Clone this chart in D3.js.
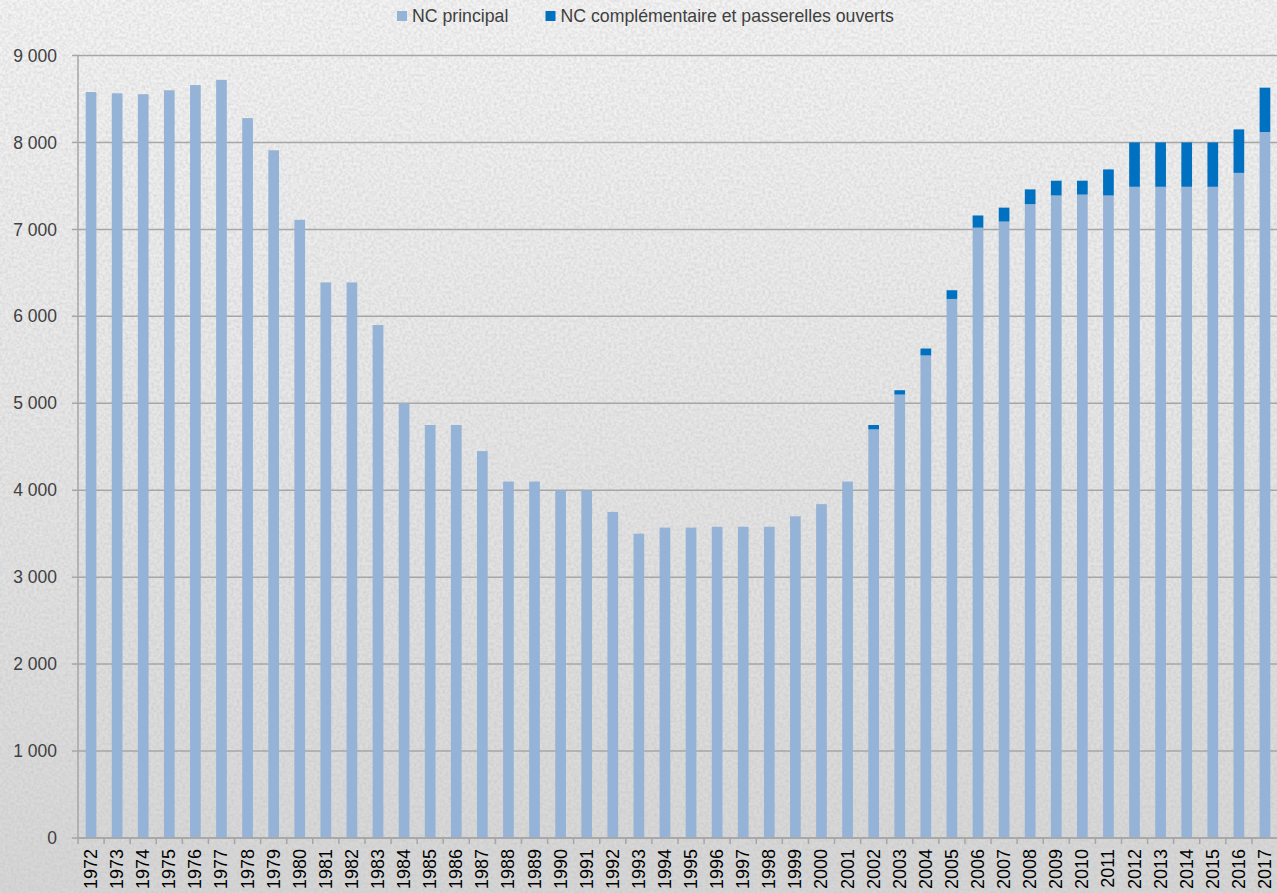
<!DOCTYPE html>
<html>
<head>
<meta charset="utf-8">
<script src="https://d3js.org/d3.v7.min.js"></script>
<style>
  body { margin: 0; }
  svg { display: block; font-family: "Liberation Sans", Arial, sans-serif; }
</style>
</head>
<body>
<div id="chart"></div>
<script>
// Data
const years = [1972, 1973, 1974, 1975, 1976, 1977, 1978, 1979, 1980, 1981,
               1982, 1983, 1984, 1985, 1986, 1987, 1988, 1989, 1990, 1991,
               1992, 1993, 1994, 1995, 1996, 1997, 1998, 1999, 2000, 2001,
               2002, 2003, 2004, 2005, 2006, 2007, 2008, 2009, 2010, 2011,
               2012, 2013, 2014, 2015, 2016, 2017];
const principal = [8580, 8565, 8555, 8600, 8660, 8720, 8280, 7910, 7110, 6390,
                   6390, 5900, 5000, 4750, 4750, 4450, 4100, 4100, 4000, 4000,
                   3750, 3500, 3570, 3570, 3580, 3580, 3580, 3700, 3840, 4100,
                   4700, 5100, 5550, 6200, 7020, 7090, 7290, 7390, 7400, 7390,
                   7490, 7490, 7490, 7490, 7650, 8120];
const complementaire = [0, 0, 0, 0, 0, 0, 0, 0, 0, 0,
                        0, 0, 0, 0, 0, 0, 0, 0, 0, 0,
                        0, 0, 0, 0, 0, 0, 0, 0, 0, 0,
                        50, 50, 80, 100, 140, 160, 170, 170, 160, 300,
                        510, 510, 510, 510, 500, 510];
const seriesNames = ["NC principal", "NC complémentaire et passerelles ouverts"];
const seriesColors = ["#95b3d7", "#0070c0"];
const yTicks = [0, 1000, 2000, 3000, 4000, 5000, 6000, 7000, 8000, 9000];

const W = 1277, H = 893;
const mLeft = 78, mRight = 1278, mTop = 55.5, mBottom = 838;

const rows = years.map((yr, i) => ({ year: yr, p: principal[i], c: complementaire[i] }));
const stacked = d3.stack().keys(["p", "c"])(rows);

const x = d3.scaleBand().domain(years).range([mLeft, mRight]).paddingInner(0.59).paddingOuter(0.295);
const xb = d3.scaleBand().domain(years).range([mLeft, mRight]);
const y = d3.scaleLinear().domain([0, 9000]).range([mBottom, mTop]);

const svg = d3.select("#chart").append("svg").attr("width", W).attr("height", H);

// textured background
const defs = svg.append("defs");
const grad = defs.append("linearGradient").attr("id", "bg").attr("x1", 0).attr("y1", 0).attr("x2", 0).attr("y2", 1);
grad.append("stop").attr("offset", "0").attr("stop-color", "#f4f4f4");
grad.append("stop").attr("offset", "0.5").attr("stop-color", "#e6e6e6");
grad.append("stop").attr("offset", "1").attr("stop-color", "#d6d6d6");
const f = defs.append("filter").attr("id", "noise").attr("x", 0).attr("y", 0).attr("width", "100%").attr("height", "100%");
f.append("feTurbulence").attr("type", "fractalNoise").attr("baseFrequency", 0.35).attr("numOctaves", 2).attr("seed", 3);
f.append("feColorMatrix").attr("type", "matrix")
  .attr("values", "0 0 0 0 0.5  0 0 0 0 0.5  0 0 0 0 0.5  0 0 0 -1.6 1.1");
svg.append("rect").attr("width", W).attr("height", H).attr("fill", "url(#bg)");
svg.append("rect").attr("width", W).attr("height", H).attr("filter", "url(#noise)").attr("opacity", 0.45);

// gridlines
svg.append("g").selectAll("line").data(yTicks).join("line")
  .attr("x1", mLeft - 6).attr("x2", W)
  .attr("y1", d => y(d)).attr("y2", d => y(d))
  .attr("stroke", "#a6a6a6").attr("stroke-width", 1.5);

// y labels
svg.append("g").selectAll("text").data(yTicks).join("text")
  .attr("x", 57).attr("y", d => y(d)).attr("dy", "0.35em")
  .attr("text-anchor", "end").attr("font-size", 17.5).attr("fill", "#404040")
  .text(d => d3.format(",")(d).replace(",", " "));

// y axis line
svg.append("line").attr("x1", mLeft).attr("x2", mLeft).attr("y1", mTop).attr("y2", mBottom)
  .attr("stroke", "#a6a6a6").attr("stroke-width", 1.5);

// bars
svg.append("g").selectAll("g").data(stacked).join("g")
  .attr("fill", (d, i) => seriesColors[i])
  .selectAll("rect").data(d => d.filter(s => s[1] > s[0])).join("rect")
  .attr("x", d => x(d.data.year))
  .attr("width", x.bandwidth())
  .attr("y", d => y(d[1]))
  .attr("height", d => y(d[0]) - y(d[1]));

// x axis with ticks at category boundaries
svg.append("line").attr("x1", mLeft).attr("x2", W).attr("y1", mBottom).attr("y2", mBottom)
  .attr("stroke", "#a6a6a6").attr("stroke-width", 1.5);
svg.append("g").selectAll("line").data(years.concat([null])).join("line")
  .attr("x1", d => d === null ? mRight : xb(d)).attr("x2", d => d === null ? mRight : xb(d))
  .attr("y1", mBottom).attr("y2", mBottom + 6)
  .attr("stroke", "#a6a6a6").attr("stroke-width", 1.5);
svg.append("g").selectAll("text").data(years).join("text")
  .attr("transform", d => `translate(${xb(d) + xb.bandwidth() / 2 + 6},849) rotate(-90)`)
  .attr("text-anchor", "end").attr("font-size", 18).attr("fill", "#000")
  .text(d => d);

// legend
const legendX = [397, 545.5];
const lg = svg.append("g").selectAll("g").data(seriesNames).join("g")
  .attr("transform", (d, i) => `translate(${legendX[i]},11)`);
lg.append("rect").attr("width", 10).attr("height", 10).attr("fill", (d, i) => seriesColors[i]);
lg.append("text").attr("x", 15).attr("y", 5).attr("dy", "0.35em")
  .attr("font-size", 17.7).attr("fill", "#404040").text(d => d);
</script>
</body>
</html>
